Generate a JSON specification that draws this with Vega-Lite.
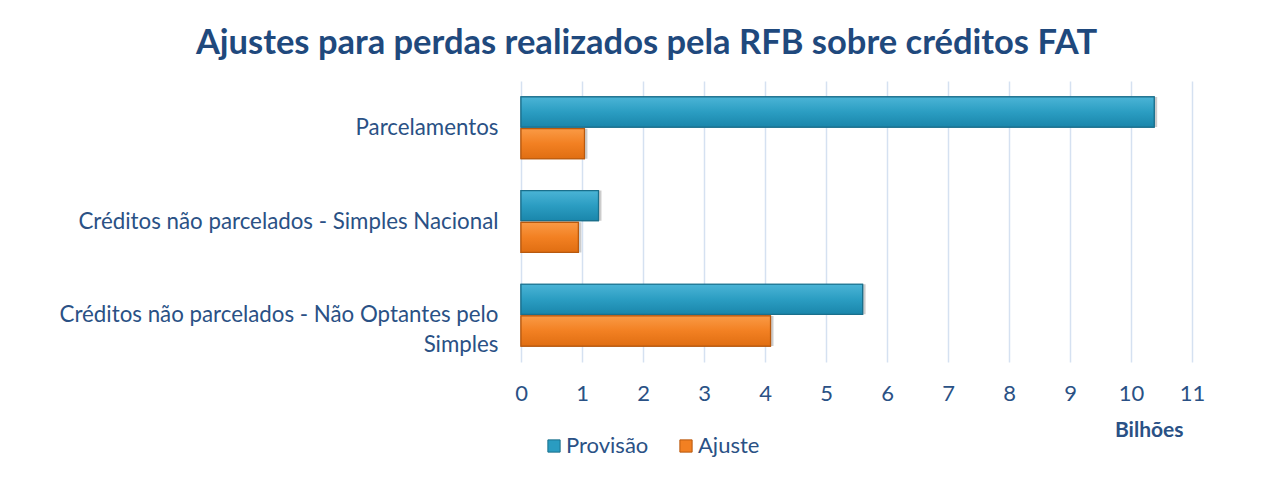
{
  "$schema": "https://vega.github.io/schema/vega-lite/v6.json",
  "width": 671,
  "height": 281,
  "autosize": {"type": "none"},
  "padding": {"left": 521, "top": 81, "right": 77, "bottom": 115},
  "background": "white",
  "title": {
    "text": "Ajustes para perdas realizados pela RFB sobre créditos FAT",
    "font": "Lato",
    "fontSize": 34.5,
    "fontWeight": "bold",
    "color": "#1F497D",
    "anchor": "middle",
    "frame": "group",
    "dx": -210,
    "offset": 20
  },
  "data": {
    "values": [
      {"categoria": "Parcelamentos", "serie": "Provisão", "valor": 10.38},
      {"categoria": "Parcelamentos", "serie": "Ajuste", "valor": 1.04},
      {"categoria": "Créditos não parcelados - Simples Nacional", "serie": "Provisão", "valor": 1.27},
      {"categoria": "Créditos não parcelados - Simples Nacional", "serie": "Ajuste", "valor": 0.94},
      {"categoria": "Créditos não parcelados - Não Optantes pelo Simples", "serie": "Provisão", "valor": 5.6},
      {"categoria": "Créditos não parcelados - Não Optantes pelo Simples", "serie": "Ajuste", "valor": 4.09}
    ]
  },
  "config": {
    "view": {"stroke": null},
    "font": "Lato"
  },
  "encoding": {
    "y": {
      "field": "categoria", "type": "nominal", "sort": null,
      "scale": {"paddingInner": 0.34, "paddingOuter": 0.17},
      "axis": {
        "title": null,
        "domain": false,
        "ticks": false,
        "grid": false,
        "labelFont": "Lato",
        "labelFontSize": 22.3,
        "labelColor": "#2A5185",
        "labelPadding": 23,
        "labelLimit": 0,
        "labelLineHeight": 30,
        "labelExpr": "datum.value == 'Créditos não parcelados - Não Optantes pelo Simples' ? ['Créditos não parcelados - Não Optantes pelo', 'Simples'] : datum.value"
      }
    },
    "yOffset": {"field": "serie", "type": "nominal", "sort": ["Provisão", "Ajuste"], "scale": {"paddingInner": 0.05}},
    "x": {
      "field": "valor", "type": "quantitative",
      "scale": {"domain": [0, 11], "nice": false},
      "axis": {
        "values": [0, 1, 2, 3, 4, 5, 6, 7, 8, 9, 10, 11],
        "format": "d",
        "labelFlush": false,
        "grid": true,
        "gridColor": "#D5E1F1",
        "gridWidth": 1.5,
        "domain": false,
        "ticks": false,
        "labelFont": "Lato",
        "labelFontSize": 22,
        "labelColor": "#2A5185",
        "labelPadding": 21,
        "title": "Bilhões",
        "titleFont": "Lato",
        "titleFontSize": 21,
        "titleFontWeight": "bold",
        "titleColor": "#2A5185",
        "titleAnchor": "end",
        "titleAlign": "right",
        "titleX": 662,
        "titlePadding": 15
      }
    }
  },
  "layer": [
    {
      "mark": {"type": "bar", "color": "#000000", "opacity": 0.2, "yOffset": 7, "xOffset": 3}
    },
    {
      "mark": {"type": "bar", "strokeWidth": 1.2},
      "encoding": {
        "color": {
          "field": "serie", "type": "nominal",
          "scale": {"domain": ["Provisão", "Ajuste"], "range": ["#2A9CC1", "#F28022"]},
          "legend": {
            "title": null,
            "orient": "none",
            "legendX": 22,
            "legendY": 354,
            "direction": "horizontal",
            "symbolType": "square",
            "symbolSize": 150,
            "symbolOpacity": 1,
            "symbolStrokeWidth": 1,
            "labelFont": "Lato",
            "labelFontSize": 22,
            "labelColor": "#2A5185",
            "columnPadding": 26,
            "labelOffset": 1
          }
        },
        "stroke": {
          "field": "serie", "type": "nominal",
          "scale": {"domain": ["Provisão", "Ajuste"], "range": ["#1A6F8C", "#B8590E"]},
          "legend": null
        }
      }
    },
    {
      "transform": [{"filter": "datum.serie == 'Provisão'"}],
      "mark": {
        "type": "bar", "strokeWidth": 1.2, "stroke": "#1A6F8C",
        "fill": {"gradient": "linear", "x1": 0, "y1": 0, "x2": 0, "y2": 1, "stops": [{"offset": 0, "color": "#4BB4D6"}, {"offset": 0.5, "color": "#2B9DC2"}, {"offset": 1, "color": "#1A86AB"}]}
      }
    },
    {
      "transform": [{"filter": "datum.serie == 'Ajuste'"}],
      "mark": {
        "type": "bar", "strokeWidth": 1.2, "stroke": "#B8590E",
        "fill": {"gradient": "linear", "x1": 0, "y1": 0, "x2": 0, "y2": 1, "stops": [{"offset": 0, "color": "#FA9A45"}, {"offset": 0.5, "color": "#F28022"}, {"offset": 1, "color": "#E06E12"}]}
      }
    }
  ]
}
